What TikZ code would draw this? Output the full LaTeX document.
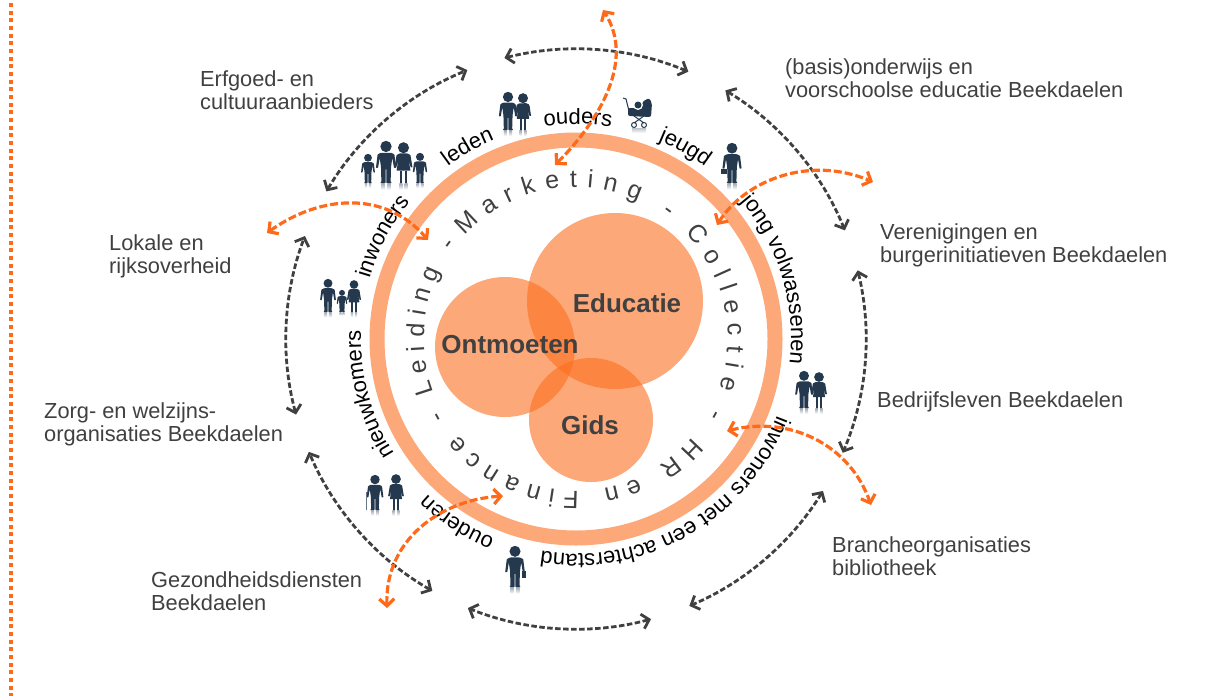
\documentclass[tikz,border=0pt]{standalone}
\usepackage{fontspec}
\setmainfont{Liberation Sans}
\usetikzlibrary{arrows.meta,decorations.text}
\definecolor{ringorange}{HTML}{FDA878}
\definecolor{blobcolor}{HTML}{FC6E1E}
\definecolor{arroworange}{HTML}{FF6A1A}
\definecolor{arrowgrey}{HTML}{404040}
\definecolor{textgrey}{HTML}{404040}
\definecolor{iconblue}{HTML}{24384E}
\newcommand{\ringfont}{\fontsize{22}{24}\selectfont\color{black}}
\newcommand{\innerfont}[1]{\fontsize{25}{27}\selectfont\color{textgrey}\fontdimen2\font=#1pt\relax}
% text on a clockwise arc round the middle, centred at angle #1
\newcommand{\arcword}[4]{\path[decorate,decoration={text along path,text align=center,text={|#3|#4}}] ({#1+85}:#2) arc ({#1+85}:{#1-85}:#2);}
\tikzset{
    partner/.style={text=textgrey,align=left,anchor=west,inner sep=0pt,font=\fontsize{21.8}{23}\selectfont},
    blob/.style={fill=blobcolor,fill opacity=0.6},
    bloblabel/.style={text=textgrey,font=\bfseries\fontsize{26}{28}\selectfont},
    greyarrow/.style={arrowgrey,line width=2.8pt,dash pattern=on 5.5pt off 2.5pt,{Straight Barb[length=7pt,width=15pt]}-{Straight Barb[length=7pt,width=15pt]}},
    orangearrow/.style={arroworange,line width=3.2pt,dash pattern=on 8pt off 3pt,{Straight Barb[length=7pt,width=15pt]}-{Straight Barb[length=7pt,width=15pt]}},
    pics/manfig/.style={code={
        \fill[iconblue] (0,.87) circle (.135);
        \fill[iconblue,rounded corners=.5pt] (-.12,.72) -- (.12,.72) -- (.2,.68) -- (.24,.36) -- (.19,.36) -- (.15,.6) -- (.12,.38) -- (.11,.03) -- (.14,0) -- (.01,0) -- (.01,.33) -- (-.01,.33) -- (-.01,0) -- (-.14,0) -- (-.11,.03) -- (-.12,.38) -- (-.15,.6) -- (-.19,.36) -- (-.24,.36) -- (-.2,.68) -- cycle;
        \shade[top color=iconblue!45,bottom color=white] (-.11,0) rectangle (-.03,-.16);
        \shade[top color=iconblue!45,bottom color=white] (.03,0) rectangle (.11,-.16);
    }},
    pics/womanfig/.style={code={
        \fill[iconblue] (0,.86) circle (.135);
        \fill[iconblue,rounded corners=.5pt] (-.1,.72) -- (.1,.72) -- (.17,.68) -- (.22,.38) -- (.175,.38) -- (.12,.6) -- (.17,.3) -- (-.17,.3) -- (-.12,.6) -- (-.175,.38) -- (-.22,.38) -- (-.17,.68) -- cycle;
        \fill[iconblue] (-.09,.3) rectangle (-.04,0);
        \fill[iconblue] (.04,.3) rectangle (.09,0);
        \shade[top color=iconblue!45,bottom color=white] (-.1,0) rectangle (-.03,-.16);
        \shade[top color=iconblue!45,bottom color=white] (.03,0) rectangle (.1,-.16);
    }},
    pics/pramfig/.style={code={
        \draw[iconblue,line width=1pt] (-14,31) -- (-11,30) -- (-8,18);
        \fill[iconblue,rounded corners=2pt] (-9,21) -- (-9,13) -- (14,12) -- (15,26) -- (12,31) -- (5,27) -- (5,21) -- cycle;
        \fill[white] (1,24) circle (5);
        \fill[iconblue] (1,24) circle (3.5);
        \draw[iconblue,line width=1pt] (-3,4) circle (2.5) (7,4) circle (2.5) (-3,6) -- (7,13) (7,6) -- (-3,13);
        \shade[top color=iconblue!30,bottom color=white] (-5,1) rectangle (9,-4);
    }}
}
\begin{document}
\begin{tikzpicture}[x=1pt,y=1pt]
\useasboundingbox (0,0) rectangle (1214,-696);
\draw[arroworange,line width=4pt,dash pattern=on 4pt off 3.67pt] (10.7,-3) -- (10.7,-696);
\coordinate (midden) at (576,-339);
% circles
\fill[blob] (615,-301) circle (88);
\fill[blob] (505,-347) circle (70);
\fill[blob] (591,-420) circle (62);
\node[bloblabel] (educatie) at (627,-303) {Educatie};
\node[bloblabel] (ontmoeten) at (510,-345) {Ontmoeten};
\node[bloblabel] (gids) at (590,-425) {Gids};
\begin{scope}[shift={(midden)}]
\draw[ringorange,line width=15pt] (0,0) circle (199);
% inner words
\arcword{101.5}{152}{\innerfont{10}}{M a r k e t i n g}
\arcword{54}{152}{\innerfont{8}}{-}
\arcword{12.5}{152}{\innerfont{9}}{C o l l e c t i e}
\arcword{-28.7}{152}{\innerfont{8}}{-}
\arcword{-90.5}{152}{\innerfont{8.2}}{H R ~ e n ~ F i n a n c e}
\arcword{-150.7}{152}{\innerfont{8}}{-}
\arcword{177}{152}{\innerfont{7.5}}{L e i d i n g}
\arcword{143.3}{152}{\innerfont{8}}{-}
% groups
\arcword{119.4}{215}{\ringfont}{leden}
\arcword{89.5}{215}{\ringfont}{ouders}
\arcword{60.3}{215}{\ringfont}{jeugd}
\arcword{16.6}{215}{\ringfont}{jong volwassenen}
\arcword{-60}{215}{\ringfont}{inwoners met een achterstand}
\arcword{-123}{215}{\ringfont}{ouderen}
\arcword{195}{215}{\ringfont}{nieuwkomers}
\arcword{152}{215}{\ringfont}{inwoners}
% grey arrows
\foreach \naam/\a/\b in {boven/104.3/67.2,rechtsboven/59/22,rechts/13.7/-23.1,rechtsonder/-31.6/-67,onder/-75/-111.9,linksonder/-119.7/-157.1,links/195.1/159.2,linksboven/149.4/112}{
    \coordinate (\naam) at (\a:290);
    \draw[greyarrow] (\naam) arc (\a:\b:290);
}
\end{scope}
% orange arrows
\coordinate (oa) at (555,-165);
\coordinate (ob) at (603,-10);
\coordinate (oc) at (717,-225);
\coordinate (od) at (873,-182);
\coordinate (oe) at (727,-431);
\coordinate (of) at (871,-505);
\coordinate (og) at (503,-496);
\coordinate (oh) at (387,-608);
\coordinate (oi) at (267,-233);
\coordinate (oj) at (428,-240);
\draw[orangearrow] (oa) .. controls (600,-120) and (635,-60) .. (ob);
\draw[orangearrow] (oc) .. controls (745,-180) and (810,-155) .. (od);
\draw[orangearrow] (oe) .. controls (790,-415) and (850,-445) .. (of);
\draw[orangearrow] (og) .. controls (440,-500) and (385,-540) .. (oh);
\draw[orangearrow] (oi) .. controls (320,-195) and (385,-190) .. (oj);
% partners
\node[partner] (erfgoed) at (200,-90) {Erfgoed- en\\cultuuraanbieders};
\node[partner] (basis) at (785,-78.5) {(basis)onderwijs en\\voorschoolse educatie Beekdaelen};
\node[partner] (verenigingen) at (880,-245) {Verenigingen en\\burgerinitiatieven Beekdaelen};
\node[partner] (bedrijfsleven) at (877,-402) {Bedrijfsleven Beekdaelen};
\node[partner] (branche) at (832,-556.5) {Brancheorganisaties\\bibliotheek};
\node[partner] (gezondheid) at (151,-591) {Gezondheidsdiensten\\Beekdaelen};
\node[partner] (zorg) at (44,-424) {Zorg- en welzijns-\\organisaties Beekdaelen};
\node[partner] (lokale) at (109,-256.5) {Lokale en\\rijksoverheid};
% icons
\foreach \x/\y/\h/\soort in {368/183/29/manfig,386/183/42/manfig,403.5/183/41/womanfig,420/183/30/manfig,508/130/38/manfig,523/130/37/womanfig,732/183/40/manfig,804/408/37/manfig,819/408/36/womanfig,375/510/35/manfig,396/510/36/womanfig,515/587/41/manfig,328/312/33/manfig,342/312/22/manfig,354/312/32/womanfig}{
    \pic[scale=\h] at (\x,-\y) {\soort};
}
\pic at (637,-129) {pramfig};
\fill[iconblue] (525,-108) circle (5);
\fill[iconblue] (721,-169) rectangle (727,-174);
\fill[iconblue] (522,-571) rectangle (526,-578);
\draw[iconblue!70,line width=1pt] (366,-492) -- (366,-510);
\end{tikzpicture}
\end{document}
